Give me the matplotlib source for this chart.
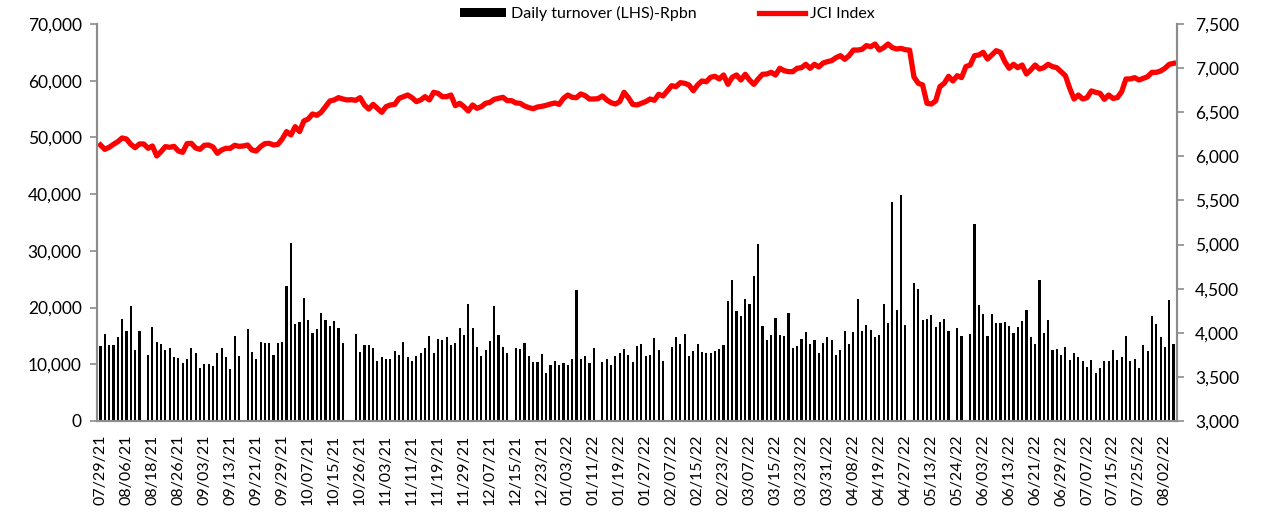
#!/usr/bin/env python3
"""
JCI index vs daily turnover (Jul-2021 .. Aug-2022), bars on LHS, index line on RHS.
"""

import matplotlib
matplotlib.use("Agg")
import matplotlib.pyplot as plt
import matplotlib.ticker as ticker
import numpy as np

# ── data ───────────────────────────────────────────────────────────────────
# daily turnover, Rp bn (0 = no bar on that date)
turnover = [
    13270, 15340, 13450, 13330, 14870, 18050, 15870, 20350, 12570, 15930,
    0, 11680, 16520, 13980, 13510, 12570, 12920, 11330, 11090, 10150,
    10970, 12800, 12040, 9320, 10090, 10090, 9730, 12040, 12800, 11330,
    9140, 14930, 11500, 0, 16280, 12150, 10970, 13860, 13690, 13800,
    11680, 13800, 13920, 23890, 31390, 17050, 17520, 21770, 17880, 15580,
    16170, 19000, 17760, 16700, 17580, 16460, 13800, 0, 0, 15400,
    12150, 13450, 13450, 12920, 10560, 11330, 10850, 10910, 12270, 11680,
    13980, 11270, 10620, 11500, 11920, 12860, 14930, 11920, 14510, 14220,
    14870, 13390, 13750, 16400, 15220, 20650, 16340, 13100, 11390, 12510,
    14100, 20350, 15100, 13100, 11980, 0, 12800, 12680, 13750, 11500,
    10320, 10380, 11740, 8440, 9790, 10620, 9790, 10210, 9790, 10970,
    23190, 10970, 11390, 10270, 12920, 0, 10320, 10910, 9790, 11500,
    12040, 12630, 11560, 10320, 13270, 13570, 11390, 11680, 14630, 12510,
    10560, 0, 12980, 14750, 13630, 15400, 11390, 12390, 13630, 12150,
    11980, 11980, 12330, 12740, 13330, 21180, 24900, 19410, 18470, 21590,
    20590, 25600, 31270, 16810, 14280, 15100, 18110, 15160, 14990, 19060,
    12800, 13270, 14450, 15690, 13630, 14220, 12040, 13750, 14870, 14220,
    11560, 12450, 15870, 13510, 15750, 21590, 15810, 16990, 16050, 14750,
    15160, 20710, 17350, 38580, 19650, 39940, 16930, 0, 24370, 23360,
    17880, 17990, 18700, 16640, 17400, 17940, 15870, 0, 16400, 14930,
    0, 15400, 34750, 20530, 18880, 14990, 18820, 17290, 17230, 17460,
    16700, 15580, 16580, 17640, 19590, 14810, 13510, 24840, 15580, 17820,
    12450, 12680, 11560, 13100, 10740, 11920, 11330, 10560, 9440, 10740,
    8440, 9320, 10560, 10560, 12570, 10680, 11270, 15040, 10500, 10860,
    9320, 13330, 12270, 18530, 17110, 14870, 12980, 21300, 13630,
]

# JCI close
jci = [
    6129, 6080, 6103, 6137, 6167, 6209, 6197, 6137, 6099, 6141,
    6141, 6092, 6118, 6005, 6054, 6111, 6103, 6114, 6061, 6046,
    6145, 6148, 6095, 6080, 6126, 6129, 6107, 6035, 6073, 6092,
    6092, 6126, 6114, 6118, 6129, 6073, 6061, 6111, 6145, 6148,
    6129, 6137, 6197, 6281, 6243, 6337, 6281, 6402, 6424, 6481,
    6466, 6500, 6564, 6628, 6640, 6666, 6651, 6640, 6643, 6636,
    6666, 6583, 6537, 6590, 6545, 6500, 6564, 6583, 6590, 6658,
    6677, 6696, 6666, 6621, 6640, 6677, 6640, 6727, 6715, 6677,
    6677, 6696, 6575, 6602, 6564, 6515, 6583, 6545, 6564, 6602,
    6613, 6647, 6658, 6670, 6632, 6632, 6606, 6602, 6572, 6553,
    6541, 6560, 6568, 6579, 6594, 6606, 6590, 6658, 6696, 6670,
    6666, 6708, 6689, 6651, 6651, 6655, 6685, 6640, 6609, 6594,
    6621, 6727, 6666, 6590, 6583, 6602, 6621, 6651, 6636, 6704,
    6685, 6742, 6802, 6791, 6836, 6829, 6810, 6745, 6810, 6855,
    6847, 6897, 6908, 6878, 6923, 6817, 6897, 6923, 6866, 6931,
    6866, 6817, 6878, 6931, 6934, 6953, 6923, 6999, 6972, 6961,
    6961, 6999, 7006, 7044, 6999, 7044, 7014, 7059, 7074, 7086,
    7120, 7142, 7101, 7142, 7206, 7206, 7214, 7256, 7244, 7274,
    7206, 7233, 7274, 7233, 7218, 7225, 7210, 7205, 6900, 6829,
    6810, 6602, 6594, 6628, 6791, 6829, 6908, 6855, 6915, 6893,
    7018, 7036, 7142, 7150, 7180, 7104, 7150, 7199, 7180, 7074,
    6999, 7044, 7006, 7036, 6934, 6980, 7036, 6991, 7006, 7044,
    7018, 7006, 6961, 6915, 6772, 6651, 6696, 6651, 6666, 6742,
    6727, 6715, 6647, 6696, 6658, 6666, 6734, 6878, 6878, 6893,
    6866, 6885, 6904, 6953, 6953, 6968, 6999, 7044, 7055,
]

# x-axis labels, one every 6 trading days
date_labels = [
    "07/29/21", "08/06/21", "08/18/21", "08/26/21", "09/03/21", "09/13/21",
    "09/21/21", "09/29/21", "10/07/21", "10/15/21", "10/26/21", "11/03/21",
    "11/11/21", "11/19/21", "11/29/21", "12/07/21", "12/15/21", "12/23/21",
    "01/03/22", "01/11/22", "01/19/22", "01/27/22", "02/07/22", "02/15/22",
    "02/23/22", "03/07/22", "03/15/22", "03/23/22", "03/31/22", "04/08/22",
    "04/19/22", "04/27/22", "05/13/22", "05/24/22", "06/03/22", "06/13/22",
    "06/21/22", "06/29/22", "07/07/22", "07/15/22", "07/25/22", "08/02/22",
]
label_step = 6


def main():
    plt.rcParams["font.family"] = ["Lato", "DejaVu Sans"]
    axis_grey = "#8c8c8c"

    fig = plt.figure(figsize=(12.7, 5.24), dpi=100)
    ax = fig.add_axes([0.0764, 0.1966, 0.8504, 0.7574])
    ax2 = ax.twinx()

    x = np.arange(len(turnover))

    # ── bars (LHS) ────────────────────────────────────────────────────────
    ax.bar(x, turnover, width=0.5, color="black", linewidth=0,
           label="Daily turnover (LHS)-Rpbn")
    ax.set_ylim(0, 70000)
    ax.yaxis.set_major_locator(ticker.MultipleLocator(10000))
    ax.yaxis.set_major_formatter(ticker.StrMethodFormatter("{x:,.0f}"))

    # ── JCI line (RHS) ────────────────────────────────────────────────────
    ax2.plot(x, jci, color="#ff0000", linewidth=3.8,
             solid_joinstyle="round", label="JCI Index")
    ax2.set_ylim(3000, 7500)
    ax2.yaxis.set_major_locator(ticker.MultipleLocator(500))
    ax2.yaxis.set_major_formatter(ticker.StrMethodFormatter("{x:,.0f}"))

    ax.set_xlim(-0.8, len(turnover) - 0.2)
    ax.set_xticks(x[::label_step][:len(date_labels)])
    ax.set_xticklabels(date_labels, rotation=90, fontsize=11.5)
    ax.tick_params(axis="x", length=0, pad=10)

    for a in (ax, ax2):
        a.tick_params(axis="y", labelsize=12.5, color=axis_grey,
                      length=5, width=1.2, direction="out")
        for side in ("top", "left", "right", "bottom"):
            a.spines[side].set_color(axis_grey)
            a.spines[side].set_linewidth(1.5)
        a.spines["top"].set_visible(False)
    ax.tick_params(axis="y", pad=6)
    ax2.tick_params(axis="y", pad=8)

    # ── legend across the top ─────────────────────────────────────────────
    h1, l1 = ax.get_legend_handles_labels()
    h2, l2 = ax2.get_legend_handles_labels()
    fig.legend(h1 + h2, l1 + l2, loc="upper center",
               bbox_to_anchor=(0.5256, 1.016), ncol=2, frameon=False,
               fontsize=11.5, handlelength=2.9, handleheight=0.55,
               columnspacing=3.9, handletextpad=0.3)

    fig.savefig("out.png", dpi=100)


if __name__ == "__main__":
    main()
